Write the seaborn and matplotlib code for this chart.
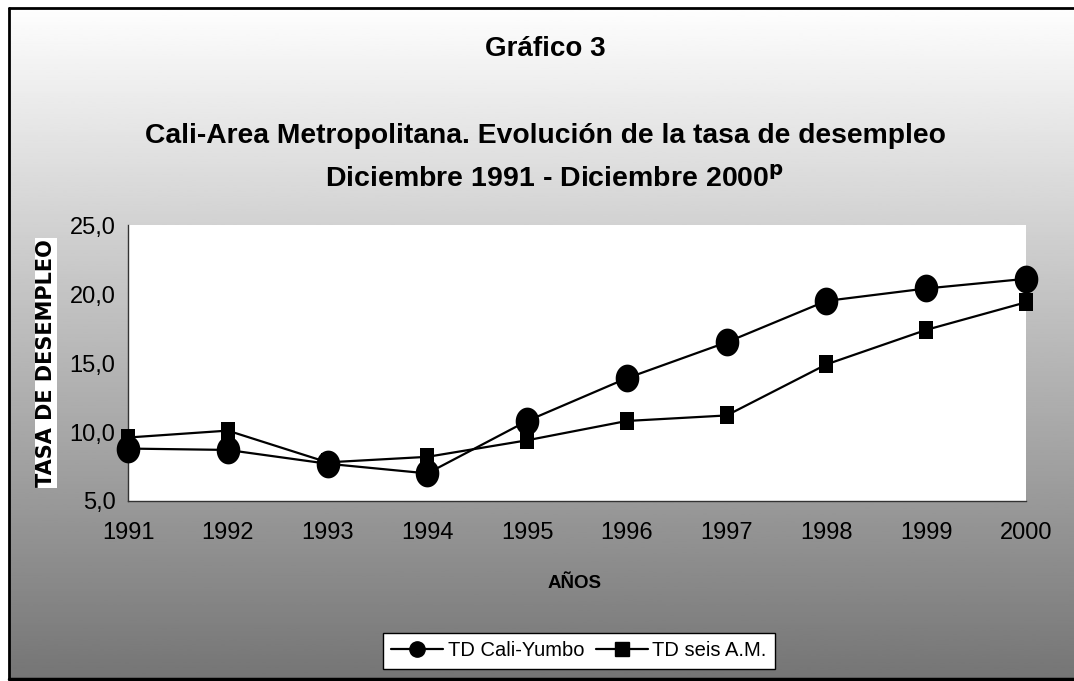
import numpy as np
import matplotlib
matplotlib.use("Agg")
import matplotlib.pyplot as plt
from matplotlib.path import Path
from matplotlib.lines import Line2D
import seaborn as sns

# data
years = [1991, 1992, 1993, 1994, 1995, 1996, 1997, 1998, 1999, 2000]
td_cali_yumbo = [8.8, 8.7, 7.7, 7.0, 10.8, 13.9, 16.5, 19.5, 20.4, 21.1]
td_seis_am = [9.6, 10.1, 7.8, 8.2, 9.4, 10.8, 11.2, 14.9, 17.4, 19.4]
y_ticks = [5, 10, 15, 20, 25]
y_tick_labels = ["5,0", "10,0", "15,0", "20,0", "25,0"]

sns.set_style("white")
plt.rcParams["font.family"] = ["Liberation Sans", "DejaVu Sans"]
plt.rcParams["text.color"] = "black"
plt.rcParams["xtick.color"] = "black"
plt.rcParams["ytick.color"] = "black"

W, H = 1074, 681
fig = plt.figure(figsize=(W / 100, H / 100), dpi=100)
fig.patch.set_facecolor("white")

# gradient background, frame drawn as figure lines (open on the right)
bg = fig.add_axes([9 / W, 2 / H, 1 - 9 / W, 671 / H])
grad = np.linspace(0.995, 0.46, 256).reshape(-1, 1)
bg.imshow(grad, cmap="gray", vmin=0, vmax=1, aspect="auto", extent=[0, 1, 0, 1])
bg.set_axis_off()
bg.set_zorder(0)

x0, y_top, y_bot = 9 / W, 1 - 8 / H, 2 / H
fig.add_artist(Line2D([x0, x0], [y_bot, y_top], color="black", linewidth=2))
fig.add_artist(Line2D([x0, 1], [y_top, y_top], color="black", linewidth=2))
fig.add_artist(Line2D([x0, 1], [y_bot, y_bot], color="black", linewidth=2.5))

ax = fig.add_axes([128 / W, 1 - 501 / H, (1026 - 128) / W, (501 - 225) / H])
ax.set_facecolor("white")
ax.set_zorder(1)

# slightly tall ellipse / rectangle markers
t = np.linspace(0, 2 * np.pi, 60)
ellipse = Path(np.column_stack([0.85 * np.cos(t), np.sin(t)]), closed=True)
tall_sq = Path([(-0.82, -1), (0.82, -1), (0.82, 1), (-0.82, 1), (-0.82, -1)], closed=True)

sns.lineplot(x=years, y=td_cali_yumbo, ax=ax, color="black", linewidth=1.6,
             marker=ellipse, markersize=20, markeredgewidth=0, clip_on=False,
             zorder=3)
sns.lineplot(x=years, y=td_seis_am, ax=ax, color="black", linewidth=1.6,
             marker=tall_sq, markersize=12.5, markeredgewidth=0, clip_on=False,
             zorder=3)

ax.set_xlim(1991, 2000)
ax.set_ylim(5, 25)
ax.set_xticks(years)
ax.set_xticklabels([str(y) for y in years], fontsize=17, color="black")
ax.set_yticks(y_ticks)
ax.set_yticklabels(y_tick_labels, fontsize=17, color="black")
ax.tick_params(axis="both", direction="inout", length=12, width=1, color="#333333",
               pad=3)
ax.tick_params(axis="x", pad=9)
for side in ["top", "right"]:
    ax.spines[side].set_visible(False)
for side in ["left", "bottom"]:
    ax.spines[side].set_color("#333333")
    ax.spines[side].set_linewidth(1)

ax.set_xlabel("")
ax.set_ylabel("")

# titles
fig.text(545 / W, 1 - 49 / H, "Gráfico 3", ha="center", va="center",
         fontsize=20, fontweight="bold")
fig.text(545 / W, 1 - 136 / H,
         "Cali-Area Metropolitana. Evolución de la tasa de desempleo",
         ha="center", va="center", fontsize=20.3, fontweight="bold")
fig.text(555 / W, 1 - 180 / H, r"Diciembre 1991 - Diciembre 2000$^{\mathbf{p}}$",
         ha="center", va="center", fontsize=20.5, fontweight="bold")

fig.text(46 / W, 1 - 363 / H, "TASA DE DESEMPLEO", rotation=90, ha="center",
         va="center", fontsize=15, fontweight="bold", family="DejaVu Sans",
         bbox=dict(facecolor="white", edgecolor="none", pad=1.0))
fig.text(575 / W, 1 - 583 / H, "AÑOS", ha="center", va="center",
         fontsize=13.5, fontweight="bold")

handles = [
    Line2D([], [], color="black", linewidth=1.6, marker="o", markersize=11),
    Line2D([], [], color="black", linewidth=1.6, marker="s", markersize=10),
]
leg = fig.legend(handles, ["TD Cali-Yumbo", "TD seis A.M."], ncol=2,
                 loc="center", bbox_to_anchor=(579 / W, 1 - 651 / H),
                 frameon=True, fancybox=False, framealpha=1, edgecolor="black",
                 handlelength=2.6, handletextpad=0.2, columnspacing=0.6,
                 borderpad=0.4, borderaxespad=0, prop={"size": 14.5})
leg.get_frame().set_linewidth(1)

fig.savefig("out.png", dpi=100)
